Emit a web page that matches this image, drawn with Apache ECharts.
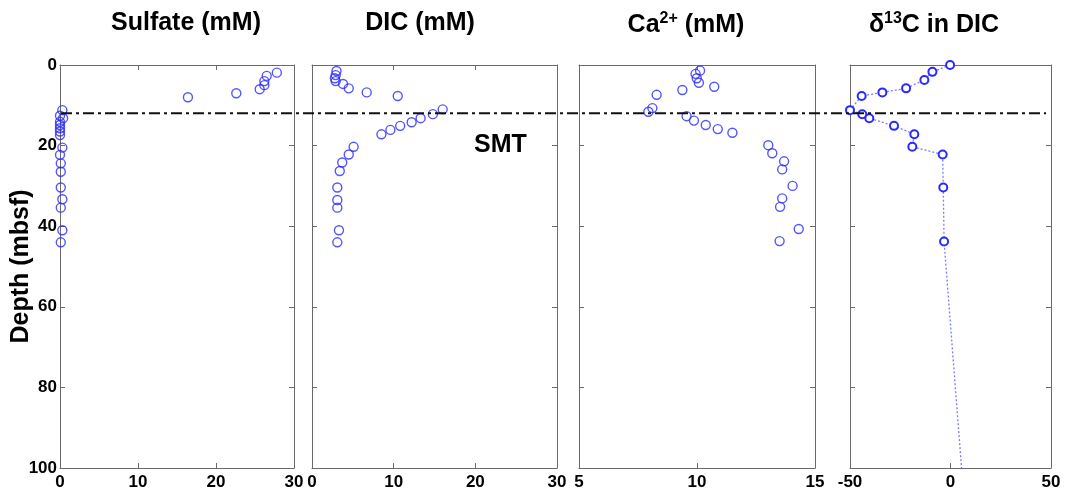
<!DOCTYPE html>
<html>
<head>
<meta charset="utf-8">
<script src="https://cdn.jsdelivr.net/npm/echarts@6/dist/echarts.min.js"></script>
<style>
  html, body { margin: 0; padding: 0; background: #ffffff; }
  #chart { width: 1065px; height: 493px; }
</style>
</head>
<body>
<div id="chart"></div>
<script>
// Pore-water profiles vs depth (mbsf)
const sulfateDepth = [1.9, 2.7, 4.0, 5.0, 6.0, 7.0, 8.0, 11.2, 12.6, 13.2, 14.1, 14.9, 15.7, 16.5, 17.4, 20.5, 22.3, 24.4, 26.5, 30.4, 33.3, 35.4, 41.0, 44.0];
const sulfate      = [27.8, 26.5, 26.2, 26.2, 25.6, 22.6, 16.4, 0.3, 0.0, 0.4, 0.0, 0.0, 0.0, 0.0, 0.0, 0.3, 0.0, 0.1, 0.1, 0.1, 0.3, 0.1, 0.3, 0.1];

const dicDepth = [1.5, 2.5, 3.3, 4.0, 4.7, 5.8, 6.8, 7.7, 11.0, 12.2, 13.2, 14.2, 15.1, 16.1, 17.2, 20.3, 22.2, 24.2, 26.3, 30.4, 33.5, 35.4, 41.0, 44.0];
const dic      = [3.0, 2.9, 2.8, 2.9, 3.8, 4.5, 6.7, 10.5, 16.0, 14.8, 13.3, 12.2, 10.8, 9.6, 8.5, 5.1, 4.5, 3.7, 3.4, 3.1, 3.1, 3.1, 3.3, 3.1];

const caDepth = [1.4, 2.2, 3.3, 4.4, 5.4, 6.2, 7.4, 10.7, 11.6, 12.7, 13.8, 14.9, 15.9, 16.8, 19.9, 21.9, 23.9, 25.9, 30.0, 33.1, 35.2, 40.7, 43.7];
const ca      = [10.13, 9.94, 9.99, 10.08, 10.73, 9.38, 8.29, 8.11, 7.94, 9.56, 9.87, 10.37, 10.88, 11.50, 13.02, 13.19, 13.69, 13.61, 14.05, 13.61, 13.52, 14.31, 13.50];

const d13cDepth = [0.0, 1.7, 3.7, 5.8, 6.8, 7.7, 11.2, 12.2, 13.2, 15.1, 17.2, 20.3, 22.2, 30.4, 43.8, 100];
const d13c      = [-0.2, -9.0, -13.0, -22.1, -33.9, -44.2, -50.0, -43.9, -40.4, -28.1, -18.0, -19.0, -3.9, -3.6, -3.2, 5.5];

const smtDepth = 12;

const titles = ['Sulfate (mM)', 'DIC (mM)', 'Ca{sup|2+} (mM)', 'δ{sup|13}C in DIC'];
const xRanges = [[0, 30, 10], [0, 30, 10], [5, 15, 5], [-50, 50, 50]];
const depthRange = [0, 100, 20];
const depthTitle = 'Depth (mbsf)';
const smtLabel = 'SMT';

const FONT = '"Liberation Sans", Arial, sans-serif';
const AXIS_COLOR = '#6a6a6a';
const MARK_COLOR = '#2a2aff';

// panel boxes in pixels
const panels = [
  { left: 60, width: 234, titleX: 181 },
  { left: 312, width: 245, titleX: 415 },
  { left: 579, width: 236, titleX: 681 },
  { left: 850, width: 201, titleX: 929 }
];
const TOP = 65, HEIGHT = 403;

const grids = [], xAxes = [], yAxes = [], series = [], titleList = [];

function zip(xs, ys) { return xs.map((v, i) => [v, ys[i]]); }

panels.forEach((p, i) => {
  grids.push({ left: p.left, top: TOP, width: p.width, height: HEIGHT, containLabel: false, outerBoundsMode: 'none' });
  const [xmin, xmax, xint] = xRanges[i];
  const xBase = {
    type: 'value', gridIndex: i, min: xmin, max: xmax, interval: xint,
    axisLine: { show: true, onZero: false, lineStyle: { color: AXIS_COLOR, width: 1 } },
    axisTick: { show: true, inside: true, length: 5, lineStyle: { color: AXIS_COLOR } },
    splitLine: { show: false }
  };
  xAxes.push(Object.assign({}, xBase, {
    position: 'bottom',
    axisLabel: { show: true, showMinLabel: true, showMaxLabel: true, hideOverlap: false,
      color: '#000', fontFamily: FONT, fontWeight: 'bold', fontSize: 17, margin: 6 }
  }));
  xAxes.push(Object.assign({}, xBase, { position: 'top', axisLabel: { show: false } }));

  const yBase = {
    type: 'value', gridIndex: i, min: depthRange[0], max: depthRange[1], interval: depthRange[2], inverse: true,
    axisLine: { show: true, onZero: false, lineStyle: { color: AXIS_COLOR, width: 1 } },
    axisTick: { show: true, inside: true, length: 5, lineStyle: { color: AXIS_COLOR } },
    splitLine: { show: false }
  };
  const left = Object.assign({}, yBase, {
    position: 'left',
    axisLabel: { show: i === 0, showMinLabel: true, showMaxLabel: true, hideOverlap: false,
      color: '#000', fontFamily: FONT, fontWeight: 'bold', fontSize: 17, margin: 3 }
  });
  if (i === 0) {
    Object.assign(left, {
      name: depthTitle, nameLocation: 'middle', nameRotate: 90, nameGap: 26, nameMoveOverlap: false,
      nameTextStyle: { color: '#000', fontFamily: FONT, fontWeight: 'bold', fontSize: 25 }
    });
  }
  yAxes.push(left);
  yAxes.push(Object.assign({}, yBase, { position: 'right', axisLabel: { show: false } }));

  titleList.push({
    text: titles[i], left: p.titleX, top: 6, textAlign: 'center',
    textStyle: {
      color: '#000', fontFamily: FONT, fontWeight: 'bold', fontSize: 25,
      rich: { sup: { fontFamily: FONT, fontWeight: 'bold', fontSize: 16, verticalAlign: 'top', padding: [0, 0, 12, 0], color: '#000' } }
    }
  });
});

const circle = (size, bw) => ({
  symbol: 'circle', symbolSize: size,
  itemStyle: { color: 'rgba(0,0,0,0)', borderColor: MARK_COLOR, borderWidth: bw }
});

series.push(Object.assign({ type: 'scatter', xAxisIndex: 0, yAxisIndex: 0, data: zip(sulfate, sulfateDepth) }, circle(9, 1.4)));
series.push(Object.assign({ type: 'scatter', xAxisIndex: 2, yAxisIndex: 2, data: zip(dic, dicDepth) }, circle(9, 1.4)));
series.push(Object.assign({ type: 'scatter', xAxisIndex: 4, yAxisIndex: 4, data: zip(ca, caDepth) }, circle(9, 1.4)));

const d13cData = zip(d13c, d13cDepth).map((v, i, arr) =>
  i === arr.length - 1 ? { value: v, symbol: 'none' } : v);
series.push({
  type: 'line', xAxisIndex: 6, yAxisIndex: 6, data: d13cData,
  symbol: 'circle', symbolSize: 8, showAllSymbol: true, clip: true,
  lineStyle: { color: '#7c7cff', width: 1.3, type: [2, 2] },
  itemStyle: { color: '#ffffff', borderColor: MARK_COLOR, borderWidth: 2 },
  emphasis: { disabled: true }
});

// SMT horizontal reference across all panels
grids.push({ left: 61, right: 19, top: TOP, height: HEIGHT, containLabel: false, outerBoundsMode: 'none' });
xAxes.push({ type: 'value', gridIndex: 4, min: 0, max: 1, show: false });
yAxes.push({ type: 'value', gridIndex: 4, min: depthRange[0], max: depthRange[1], inverse: true, show: false });
series.push({
  type: 'line', xAxisIndex: 8, yAxisIndex: 8, data: [[0, smtDepth], [1, smtDepth]],
  symbol: 'none', z: 5,
  lineStyle: { color: '#111', width: 2, type: [11, 4, 3, 4] },
  emphasis: { disabled: true }
});

const chart = echarts.init(document.getElementById('chart'), null, { renderer: 'canvas' });
chart.setOption({
  animation: false,
  backgroundColor: '#ffffff',
  title: titleList,
  grid: grids,
  xAxis: xAxes,
  yAxis: yAxes,
  series: series,
  graphic: [{
    type: 'text', left: 474, top: 133, z: 10,
    style: { text: smtLabel, fill: '#000', font: 'bold 25px ' + FONT }
  }]
});
</script>
</body>
</html>
